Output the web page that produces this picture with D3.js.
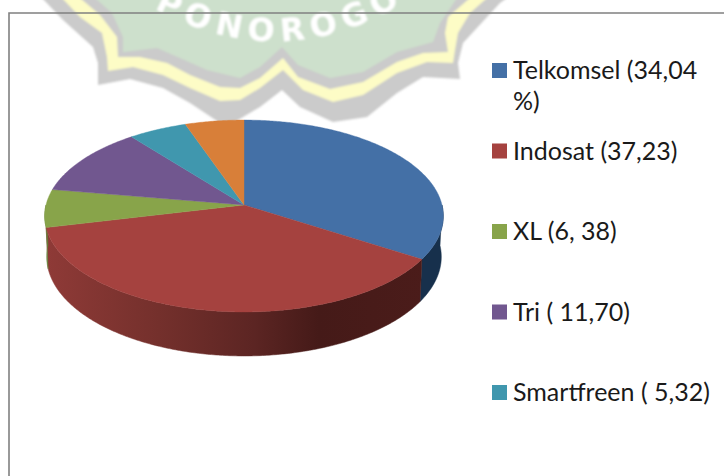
<!DOCTYPE html>
<html>
<head>
<meta charset="utf-8">
<script src="https://cdn.jsdelivr.net/npm/d3@7/dist/d3.min.js"></script>
<style>html,body{margin:0;padding:0;background:#fff}svg{display:block}</style>
</head>
<body>
<div id="chart"></div>
<script>
const legendLabels = [["Telkomsel (34,04","%)"],["Indosat (37,23)"],["XL (6, 38)"],["Tri ( 11,70)"],["Smartfreen ( 5,32)"]];
const sliceValues = [34.04,37.23,6.38,11.70,5.32,5.33];
const sliceColors = ["#4470a6","#a5423f","#88a44a","#71578f","#4097ae","#d87f39"];
const sideColors = ["#17304c","url(#redSide)","#66803a","#4a3660","#2a6375","#8d5325"];
const wmOuter = [[42,-2],[63,20],[93,47],[98,63],[98,85],[130,79],[163,88],[190,103],[220,123],[233,123],[260,107],[282,90],[300,107],[333,122],[367,117],[397,93],[423,77],[460,79],[458,63],[463,43],[500,3],[507,-2]];
const wmYellow = [[62,-2],[80,17],[102,33],[107,57],[108,71],[133,67],[163,75],[190,88],[220,101],[240,100],[260,88],[283,70],[303,90],[333,102],[363,95],[397,73],[427,62],[453,63],[455,50],[458,33],[470,13],[487,-2]];
const wmInner = [[80,-2],[100,15],[117,37],[118,57],[140,57],[167,63],[190,75],[220,87],[240,88],[260,78],[283,58],[298,77],[330,89],[363,82],[397,62],[423,53],[448,52],[445,33],[448,17],[470,-2]];
const wmGreen = [[95,-2],[112,13],[123,37],[123,52],[157,48],[180,58],[207,70],[240,78],[260,67],[282,47],[298,65],[330,78],[363,72],[397,52],[433,42],[440,23],[457,-2]];

const W = 724, H = 476;
const svg = d3.select("#chart").append("svg").attr("width",W).attr("height",H);
const defs = svg.append("defs");
const grad = defs.append("linearGradient").attr("id","redSide").attr("gradientUnits","userSpaceOnUse")
  .attr("x1",45).attr("x2",425).attr("y1",0).attr("y2",0);
[[0,"#8f3a37"],[0.3,"#74302c"],[0.55,"#5c2523"],[0.72,"#451a18"],[1,"#4b1c1a"]]
  .forEach(s=>grad.append("stop").attr("offset",s[0]).attr("stop-color",s[1]));
defs.append("filter").attr("id","soft").append("feGaussianBlur").attr("stdDeviation",0.9);

// watermark
const wm = svg.append("g").attr("filter","url(#soft)");
const poly = d3.line();
[[wmOuter,"#cbcbcb"],[wmYellow,"#fdfcc6"],[wmInner,"#cbcbcb"],[wmGreen,"#cde0cc"]]
  .forEach(([p,c])=>wm.append("path").attr("d",poly(p)+"Z").attr("fill",c));
defs.append("path").attr("id","wmArc").attr("d","M120,-13 Q282,100 440,-22");
wm.append("text").attr("font-family","DejaVu Sans").attr("font-weight","bold")
  .attr("font-size",32).attr("letter-spacing",7).attr("fill","#fff")
  .append("textPath").attr("href","#wmArc").attr("startOffset","50%").attr("text-anchor","middle").text("PONOROGO");

// chart frame
const frame = d3.path();
frame.moveTo(W,13); frame.lineTo(9,13); frame.lineTo(9,H);
svg.append("path").attr("d",frame.toString()).attr("fill","none").attr("stroke","#808080").attr("stroke-width",1.6);

// pie in perspective
const pieGen = d3.pie().sort(null).startAngle(0).endAngle(2*Math.PI);
const arcs = pieGen(sliceValues);
const persp = 0.1146;
const project = (a,top) => {
  const u = Math.sin(a), v = -Math.cos(a), d = 1 - persp*v;
  return top ? [244 + 198*u/d, 205 + 94.7*v/d] : [244 + 196*u/d, 245.5 + 97.8*v/d];
};
const sample = (a0,a1,top) => {
  const n = Math.max(2,Math.ceil(Math.abs(a1-a0)/0.01));
  return d3.range(n+1).map(i=>project(a0+(a1-a0)*i/n,top));
};
const line = d3.line();
const g = svg.append("g");
// side walls: only the near half of the rim is visible
arcs.forEach((d,i)=>{
  const a0 = Math.max(d.startAngle, Math.PI*0.5), a1 = Math.min(d.endAngle, Math.PI*1.5);
  if (a1 <= a0) return;
  g.append("path").attr("d",line(sample(a0,a1,true).concat(sample(a1,a0,false)))+"Z")
    .attr("fill",sideColors[i]).attr("stroke",sideColors[i]).attr("stroke-width",0.5);
});
// top faces
arcs.forEach((d,i)=>{
  g.append("path").attr("d",line([[244,205]].concat(sample(d.startAngle,d.endAngle,true)))+"Z")
    .attr("fill",sliceColors[i]).attr("stroke",sliceColors[i]).attr("stroke-width",0.4);
});

// legend
const rowY = d3.scaleLinear().domain([0,4]).range([63,385]);
const lineStep = 31;
const legend = svg.append("g").selectAll("g").data(legendLabels).join("g")
  .attr("transform",(d,i)=>`translate(492,${rowY(i)})`);
legend.append("rect").attr("width",15).attr("height",15).attr("fill",(d,i)=>sliceColors[i]);
legend.append("text").attr("font-family","Lato").attr("font-size",25).attr("fill","#1a1a1a")
  .selectAll("tspan").data(d=>d).join("tspan")
  .attr("x",21).attr("y",(d,i)=>16+i*lineStep).text(d=>d);
</script>
</body>
</html>
